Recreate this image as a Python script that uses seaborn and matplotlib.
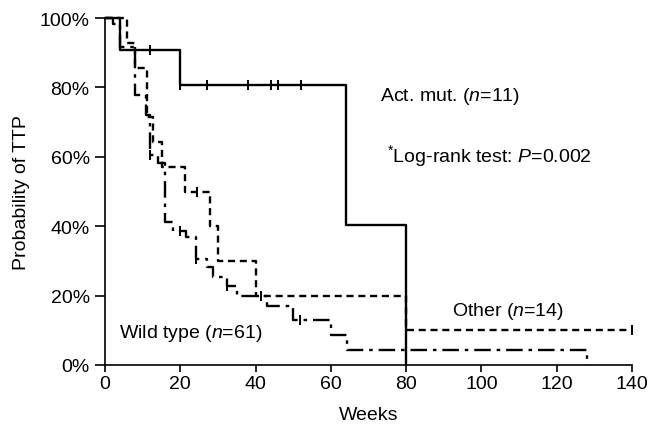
import numpy as np
import pandas as pd
import matplotlib
matplotlib.use('Agg')
import matplotlib.pyplot as plt
import seaborn as sns

# step points (weeks, survival %)
act_t = [0, 4, 20, 64, 80]
act_s = [100, 90.9, 80.8, 40.4, 0]
act_cens_t = [12, 20, 27, 38, 44, 46, 52]
act_cens_s = [90.9, 80.8, 80.8, 80.8, 80.8, 80.8, 80.8]

wild_t = [0, 2, 4, 8, 11, 12, 14, 16, 18, 21.5, 24.2, 27, 28.7, 32.4, 35, 43, 50, 60, 64.3, 128]
wild_s = [100, 98.4, 91.5, 77.7, 72, 60.4, 58.2, 41.3, 38.7, 37.0, 30.6, 28.3, 25.4, 22.8, 19.9, 16.9, 13.0, 8.7, 4.3, 0]
wild_cens_t = [12, 20, 24.2, 32.4, 41.5, 51.8]
wild_cens_s = [60.4, 38.7, 30.6, 22.8, 19.9, 13.0]

other_t = [0, 5.8, 8, 11.2, 12.7, 15.1, 21.2, 27.9, 30, 40.2, 80, 140]
other_s = [100, 92.9, 85.7, 71.4, 64.3, 57.1, 50, 40, 30, 20, 10, 10]
other_cens_t = [24.4, 140]
other_cens_s = [50, 10]

sns.set_style('ticks')
plt.rcParams['font.family'] = ['Liberation Sans', 'DejaVu Sans']
plt.rcParams['mathtext.fontset'] = 'custom'
plt.rcParams['mathtext.rm'] = 'Liberation Sans'
plt.rcParams['mathtext.it'] = 'Liberation Sans:italic'
plt.rcParams['text.color'] = 'black'
plt.rcParams['axes.labelcolor'] = 'black'

fig = plt.figure(figsize=(6.5, 4.31), dpi=100)
ax = fig.add_axes([105 / 650, 1 - 366 / 431, 527 / 650, 347 / 431])

curves = [
    (act_t, act_s, act_cens_t, act_cens_s, '-'),
    (wild_t, wild_s, wild_cens_t, wild_cens_s, (0, (7, 2.5, 1.5, 2.5))),
    (other_t, other_s, other_cens_t, other_cens_s, (0, (3, 2))),
]
for t, s, ct, cs, ls in curves:
    sns.lineplot(x=t, y=s, ax=ax, color='black', linewidth=1.7, linestyle=ls,
                 drawstyle='steps-post', estimator=None, sort=False, clip_on=False)
    sns.scatterplot(x=ct, y=cs, ax=ax, marker='|', s=45, color='black',
                    edgecolor='black', linewidth=1.4, clip_on=False, zorder=3)

ax.set_xlim(0, 140)
ax.set_ylim(0, 100)
ax.set_xticks(range(0, 141, 20))
ax.set_yticks(range(0, 101, 20))
ax.set_yticklabels([f'{v}%' for v in range(0, 101, 20)])
ax.tick_params(axis='both', labelsize=14, colors='black', width=1.2)
ax.tick_params(axis='y', length=7, pad=4)
ax.tick_params(axis='x', length=5, pad=2)
for sp in ['left', 'bottom']:
    ax.spines[sp].set_linewidth(1.2)
    ax.spines[sp].set_color('black')
sns.despine(ax=ax)

fs = 14
ax.set_xlabel('Weeks', fontsize=fs, labelpad=10)
ax.set_ylabel('Probability of TTP', fontsize=fs, labelpad=7)

ax.text(73.0, 77.7, 'Act. mut. ($n$=11)', fontsize=fs, va='center')
ax.text(74.9, 60.4, '$^{*}$Log-rank test: $P$=0.002', fontsize=fs, va='center')
ax.text(92.2, 15.6, 'Other ($n$=14)', fontsize=fs, va='center')
ax.text(3.7, 9.5, 'Wild type ($n$=61)', fontsize=fs, va='center')

fig.savefig('out.png', dpi=100)
